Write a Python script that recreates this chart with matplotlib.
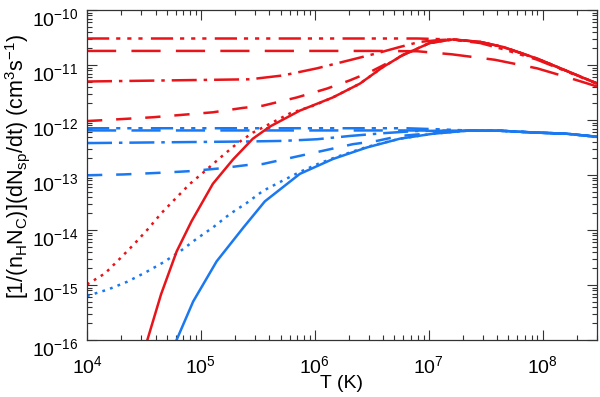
import numpy as np
import matplotlib
matplotlib.use('Agg')
import matplotlib.pyplot as plt
import matplotlib.transforms as mtransforms
from matplotlib.ticker import FixedLocator, NullFormatter, LogFormatterSciNotation

plt.rcParams['font.family'] = ['Liberation Sans', 'DejaVu Sans']
plt.rcParams['mathtext.fontset'] = 'custom'
plt.rcParams['mathtext.rm'] = 'Liberation Sans'
plt.rcParams['mathtext.it'] = 'Liberation Sans'
plt.rcParams['mathtext.default'] = 'regular'
plt.rcParams['lines.scale_dashes'] = False

# Values, log10(T) and log10(rate)
red_solid_logT = [4.45, 4.524, 4.65, 4.787, 4.918, 5.105, 5.281, 5.456, 5.605, 5.868, 6.158,
                  6.395, 6.596, 6.772, 7.009, 7.21, 7.45, 7.649, 7.947, 8.237, 8.477]
red_solid_logR = [-16.55, -16.04, -15.17, -14.39, -13.84, -13.16, -12.72, -12.34, -12.12, -11.83, -11.59,
                  -11.34, -11.04, -10.82, -10.60, -10.536, -10.58, -10.67, -10.88, -11.13, -11.335]

red_dotted_logT = [4.0, 4.158, 4.289, 4.412, 4.532, 4.655, 4.781, 4.904, 5.035, 5.167, 5.316,
                   5.456, 5.623, 5.781, 6.0, 6.158, 6.395, 6.596, 6.772, 7.009, 7.21, 7.45,
                   7.649, 7.947, 8.237, 8.477]
red_dotted_logR = [-14.99, -14.79, -14.52, -14.26, -13.99, -13.69, -13.42, -13.16, -12.93, -12.69, -12.43,
                   -12.23, -12.05, -11.88, -11.73, -11.59, -11.34, -11.04, -10.82, -10.60, -10.536, -10.58,
                   -10.67, -10.88, -11.13, -11.335]

red_dashed_logT = [4.0, 4.579, 5.105, 5.368, 5.544, 5.842, 6.105, 6.307, 6.482, 6.596, 6.772,
                   7.009, 7.21, 7.45, 7.649, 7.947, 8.237, 8.477]
red_dashed_logR = [-12.02, -11.95, -11.86, -11.78, -11.74, -11.59, -11.43, -11.28, -11.13, -11.01, -10.82,
                   -10.60, -10.536, -10.58, -10.67, -10.88, -11.13, -11.335]

red_dashdot_logT = [4.0, 5.43, 5.72, 6.02, 6.31, 6.54, 6.75, 6.92, 7.1, 7.21, 7.45, 7.649,
                    7.947, 8.237, 8.477]
red_dashdot_logR = [-11.30, -11.26, -11.19, -11.06, -10.91, -10.79, -10.67, -10.58, -10.545, -10.536,
                    -10.58, -10.67, -10.88, -11.13, -11.335]

red_dash3dot_logT = [4.0, 6.9, 7.1, 7.21, 7.45, 7.649, 7.947, 8.237, 8.477]
red_dash3dot_logR = [-10.518, -10.518, -10.53, -10.54, -10.60, -10.71, -10.90, -11.14, -11.34]

red_longdash_logT = [4.0, 6.5, 6.9, 7.2, 7.58, 7.95, 8.22, 8.477]
red_longdash_logR = [-10.744, -10.744, -10.75, -10.805, -10.905, -11.06, -11.225, -11.39]

blue_solid_logT = [4.70, 4.778, 4.932, 5.138, 5.371, 5.561, 5.868, 6.158, 6.456, 6.746, 7.035,
                   7.333, 7.623, 7.912, 8.211, 8.477]
blue_solid_logR = [-16.5, -16.04, -15.30, -14.57, -13.96, -13.48, -12.98, -12.71, -12.50, -12.34, -12.25,
                   -12.195, -12.195, -12.226, -12.25, -12.305]

blue_dotted_logT = [4.0, 4.187, 4.354, 4.515, 4.669, 4.816, 4.962, 5.108, 5.254, 5.401, 5.544,
                    5.711, 5.868, 6.026, 6.193, 6.456, 6.746, 7.035, 7.333, 7.623, 7.912, 8.211, 8.477]
blue_dotted_logR = [-15.20, -15.08, -14.94, -14.77, -14.59, -14.39, -14.16, -13.95, -13.71, -13.51, -13.29,
                    -13.11, -12.945, -12.80, -12.67, -12.49, -12.34, -12.25, -12.195, -12.195, -12.226,
                    -12.25, -12.305]

blue_dashed_logT = [4.0, 4.318, 4.64, 4.904, 5.167, 5.401, 5.544, 5.807, 6.07, 6.333, 6.544,
                    6.746, 7.035, 7.333, 7.623, 7.912, 8.211, 8.477]
blue_dashed_logR = [-13.005, -12.99, -12.96, -12.93, -12.88, -12.82, -12.80, -12.68, -12.56, -12.44, -12.38,
                    -12.29, -12.24, -12.195, -12.195, -12.226, -12.25, -12.305]

blue_dashdot_logT = [4.0, 5.43, 5.72, 6.02, 6.31, 6.60, 6.89, 7.333, 7.623, 7.912, 8.211, 8.477]
blue_dashdot_logR = [-12.42, -12.39, -12.38, -12.35, -12.29, -12.24, -12.20, -12.19, -12.195, -12.226,
                     -12.25, -12.305]

blue_dash3dot_logT = [4.0, 6.8, 7.1, 7.333, 7.623, 7.912, 8.211, 8.477]
blue_dash3dot_logR = [-12.15, -12.15, -12.17, -12.19, -12.195, -12.226, -12.25, -12.305]

blue_longdash_logT = [4.0, 6.8, 7.333, 7.623, 7.912, 8.211, 8.477]
blue_longdash_logR = [-12.19, -12.19, -12.195, -12.195, -12.226, -12.25, -12.305]

x_decades = [4, 5, 6, 7, 8]
y_decades = [-16, -15, -14, -13, -12, -11, -10]

red = '#e8141a'
blue = '#1a78f0'

# IDL-like line styles (points)
styles = {
    'solid': None,
    'dotted': (0, (2.0, 3.8)),
    'dashed': (0, (11, 10)),
    'dashdot': (0, (18, 5, 2.5, 5)),
    'dash3dot': (0, (16, 5, 3, 5, 3, 5, 3, 6)),
    'longdash': (0, (21, 11)),
}

series = [
    (blue, 'solid', blue_solid_logT, blue_solid_logR),
    (blue, 'dotted', blue_dotted_logT, blue_dotted_logR),
    (blue, 'dashed', blue_dashed_logT, blue_dashed_logR),
    (blue, 'dashdot', blue_dashdot_logT, blue_dashdot_logR),
    (blue, 'dash3dot', blue_dash3dot_logT, blue_dash3dot_logR),
    (blue, 'longdash', blue_longdash_logT, blue_longdash_logR),
    (red, 'solid', red_solid_logT, red_solid_logR),
    (red, 'dotted', red_dotted_logT, red_dotted_logR),
    (red, 'dashed', red_dashed_logT, red_dashed_logR),
    (red, 'dashdot', red_dashdot_logT, red_dashdot_logR),
    (red, 'dash3dot', red_dash3dot_logT, red_dash3dot_logR),
    (red, 'longdash', red_longdash_logT, red_longdash_logR),
]

fig = plt.figure(figsize=(6.0, 3.97), dpi=100)
ax = fig.add_axes([0.145, 0.1436, 0.85, 0.8312])

for color, style, lt, lr in series:
    T = 10 ** np.array(lt)
    R = 10 ** np.array(lr)
    ls = styles[style]
    if ls is None:
        ax.plot(T, R, color=color, lw=1.8, solid_capstyle='butt', solid_joinstyle='round')
    else:
        ax.plot(T, R, color=color, lw=1.8, linestyle=ls, dash_capstyle='butt')

ax.set_xscale('log')
ax.set_yscale('log')
ax.set_xlim(1e4, 3e8)
ax.set_ylim(1e-16, 1e-10)

# only ticks that lie inside the view
xmaj = [10.0 ** d for d in x_decades]
ymaj = [10.0 ** d for d in y_decades]
xmin = [m * 10.0 ** d for d in x_decades for m in range(2, 10) if m * 10.0 ** d <= 3e8]
ymin = [m * 10.0 ** d for d in y_decades[:-1] for m in range(2, 10)]
ax.xaxis.set_major_locator(FixedLocator(xmaj))
ax.yaxis.set_major_locator(FixedLocator(ymaj))
ax.xaxis.set_minor_locator(FixedLocator(xmin))
ax.yaxis.set_minor_locator(FixedLocator(ymin))
ax.xaxis.set_major_formatter(LogFormatterSciNotation())
ax.yaxis.set_major_formatter(LogFormatterSciNotation())
ax.xaxis.set_minor_formatter(NullFormatter())
ax.yaxis.set_minor_formatter(NullFormatter())

ax.tick_params(which='both', direction='in', top=True, right=True, color='#333333', width=0.8)
ax.tick_params(which='major', length=7, labelsize=14)
ax.tick_params(axis='x', which='major', pad=11)
ax.tick_params(axis='y', which='major', pad=6)
ax.tick_params(which='minor', length=3.5)
for s in ax.spines.values():
    s.set_color('#333333')
    s.set_linewidth(0.9)

ax.set_xlabel('T (K)', fontsize=14)
ax.xaxis.set_label_coords(0.5, -0.105)
ax.set_ylabel(r'[1/(n$_\mathregular{H}$N$_\mathregular{C}$)](dN$_\mathregular{sp}$/dt) (cm$^\mathregular{3}$s$^\mathregular{-1}$)',
              fontsize=15.5)
ax.yaxis.set_label_coords(-0.108, 0.527)

# nudge the end y labels inward so they stay clear of the corners, as in the reference
fig.canvas.draw()
down = mtransforms.ScaledTranslation(0, -5 / 72, fig.dpi_scale_trans)
up = mtransforms.ScaledTranslation(0, 4 / 72, fig.dpi_scale_trans)
for t in ax.yaxis.get_major_ticks():
    if np.isclose(t.get_loc(), 1e-10, rtol=1e-3):
        t.label1.set_transform(t.label1.get_transform() + down)
    elif np.isclose(t.get_loc(), 1e-16, rtol=1e-3):
        t.label1.set_transform(t.label1.get_transform() + up)

fig.savefig('out.png', dpi=100)
